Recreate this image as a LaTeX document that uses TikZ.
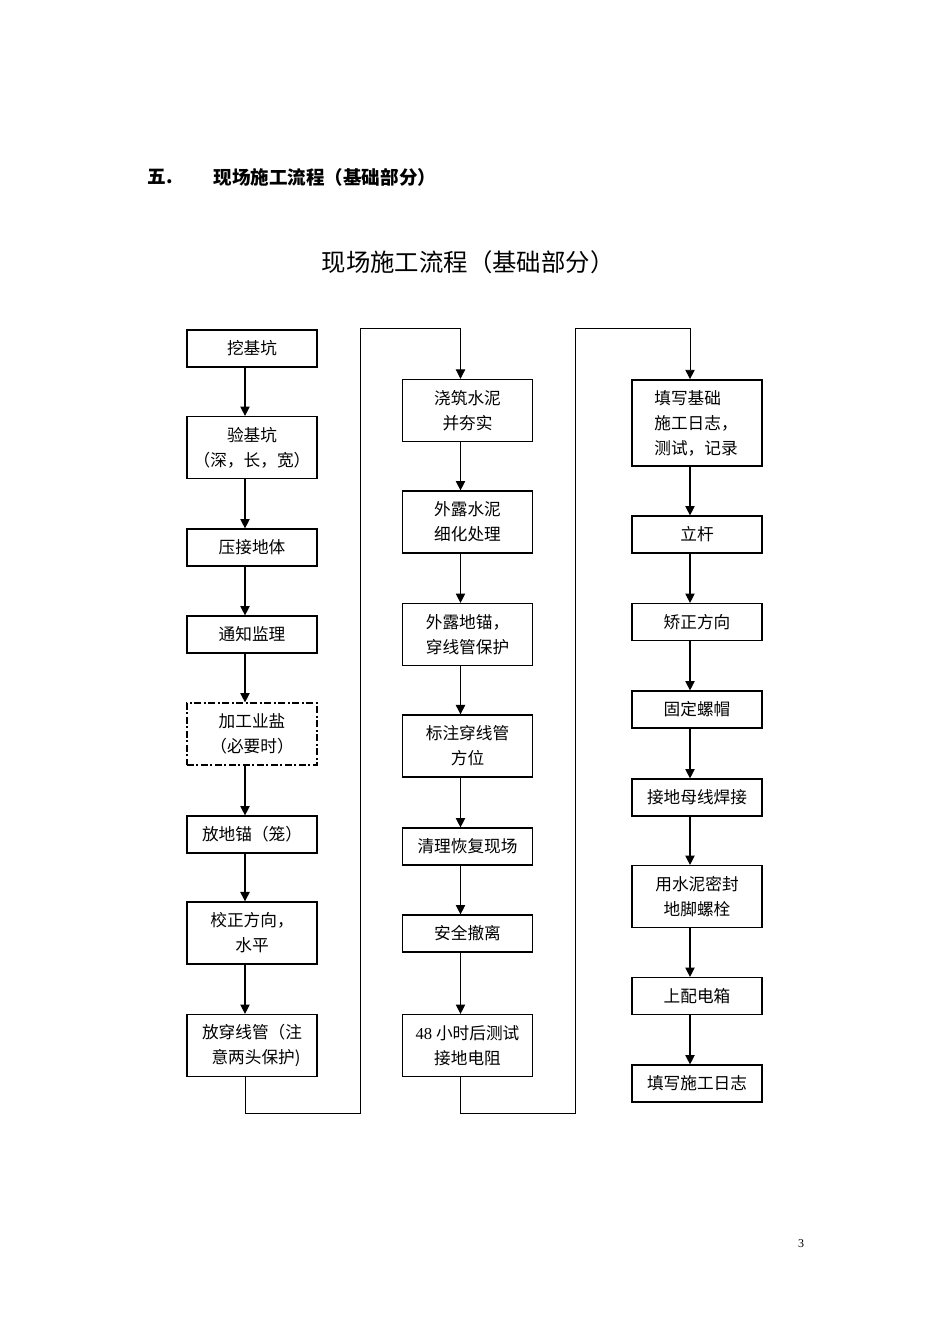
\documentclass[tikz,border=0pt]{standalone}
\usepackage{fontspec}
\setmainfont{Liberation Serif}
\newfontfamily\cjk{Noto Sans CJK SC}
\usetikzlibrary{arrows.meta}
\begin{document}
\begin{tikzpicture}[x=0.75pt,y=-0.75pt,
  box/.style={draw,line width=0.9pt,minimum width=97.5pt,inner sep=0pt,align=center,
    font=\cjk\fontsize{12.5}{18.75}\selectfont},
  hA/.style={box,minimum height=27.75pt},
  hB/.style={box,minimum height=46.5pt},
  hC/.style={box,minimum height=64.5pt},
  heavy/.style={line width=1.3pt},
  semiheavy/.style={line width=1.05pt},
  dashdot/.style={dash pattern=on 5pt off 2pt on 1.5pt off 2pt},
  arr/.style={line width=0.9pt,-{Triangle[length=7pt,width=7pt]}},
  loop/.style={line width=0.7pt,-{Triangle[length=7pt,width=7pt]}}
]
\useasboundingbox (0,0) rectangle (950,1344);

% header and title
\node[anchor=west,font=\cjk\bfseries\fontsize{14}{16}\selectfont] (hnum) at (143,177) {五.};
\node[anchor=west,font=\cjk\bfseries\fontsize{13.9}{16}\selectfont] (htxt) at (209,177) {现场施工流程（基础部分）};
\node[font=\cjk\fontsize{18.3}{22}\selectfont] (title) at (468,262) {现场施工流程（基础部分）};
\node[font=\fontsize{9}{11}\selectfont] (pg) at (801,1244) {3};

% column 1
\node[hA] (a1) at (252,348.5) {挖基坑};
\node[hB] (a2) at (252,447.5) {验基坑\\（深，长，宽）};
\node[hA] (a3) at (252,547.5) {压接地体};
\node[hA] (a4) at (252,634.5) {通知监理};
\node[hB,dashdot] (a5) at (252,734) {加工业盐\\（必要时）};
\node[hA] (a6) at (252,834.5) {放地锚（笼）};
\node[hB,semiheavy] (a7) at (252,933) {校正方向，\\水平};
\node[hB] (a8) at (252,1045.5) {放穿线管（注\\\hspace*{6pt}意两头保护)};

% column 2
\node[hB,semiheavy] (b1) at (467.5,410.5) {浇筑水泥\\并夯实};
\node[hB] (b2) at (467.5,522) {外露水泥\\细化处理};
\node[hB] (b3) at (467.5,634.5) {外露地锚，\\穿线管保护};
\node[hB,semiheavy] (b4) at (467.5,746) {标注穿线管\\方位};
\node[hA] (b5) at (467.5,846.5) {清理恢复现场};
\node[hA] (b6) at (467.5,933.5) {安全撤离};
\node[hB] (b7) at (467.5,1045.5) {{\rmfamily 48} 小时后测试\\接地电阻};

% column 3
\node[hC,heavy,text width=64pt,align=left] (c1) at (697,423) {填写基础\\施工日志，\\测试，记录};
\node[hA] (c2) at (697,534.5) {立杆};
\node[hA] (c3) at (697,622) {矫正方向};
\node[hA] (c4) at (697,709.5) {固定螺帽};
\node[hA] (c5) at (697,797.5) {接地母线焊接};
\node[hB] (c6) at (697,896.5) {用水泥密封\\地脚螺栓};
\node[hA] (c7) at (697,996) {上配电箱};
\node[hA] (c8) at (697,1083.5) {填写施工日志};

% arrows within columns
\foreach \p/\q in {a1/a2,a2/a3,a3/a4,a4/a5,a5/a6,a6/a7,a7/a8,
                   b1/b2,b2/b3,b3/b4,b4/b5,b5/b6,b6/b7,
                   c1/c2,c2/c3,c3/c4,c4/c5,c5/c6,c6/c7,c7/c8}
  \draw[arr] ([xshift=-5.25pt]\p.south) -- ([xshift=-5.25pt]\q.north);

% connecting loops between columns
\coordinate (l1a) at (360,1113);
\coordinate (l1b) at (360,328);
\draw[loop] ([xshift=-5.25pt]a8.south) |- (l1a) -- (l1b) -| ([xshift=-5.25pt]b1.north);
\coordinate (l2a) at (575,1113);
\coordinate (l2b) at (575,328);
\draw[loop] ([xshift=-5.25pt]b7.south) |- (l2a) -- (l2b) -| ([xshift=-5.25pt]c1.north);
\end{tikzpicture}
\end{document}
